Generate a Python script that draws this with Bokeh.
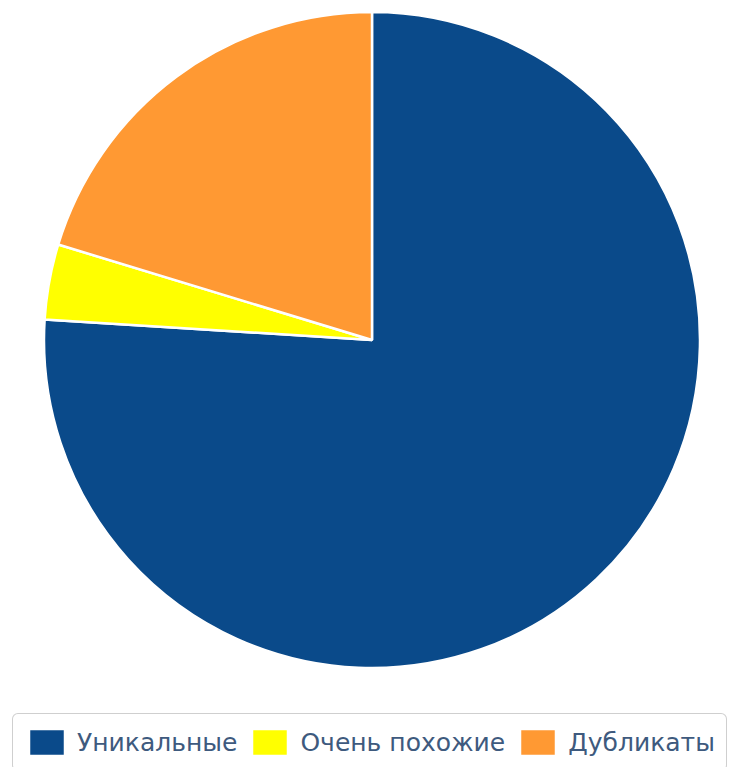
import math
import numpy as np
from bokeh.plotting import figure
from bokeh.models import ColumnDataSource, Range1d, Legend, LegendItem
from bokeh.embed import file_html
from bokeh.resources import INLINE

# data
categories = ["Уникальные", "Очень похожие", "Дубликаты"]
shares = [76.0, 3.7, 20.3]
colors = ["#0A4A8A", "#FFFF00", "#FF9933"]

W, H = 729, 767
cx, cy = 371.5, H - 339.5
R = 328

vals = np.array(shares, dtype=float)
frac = vals / vals.sum()
ends_cum = np.cumsum(frac)
starts_cum = ends_cum - frac
start_angle = math.pi / 2 - starts_cum * 2 * math.pi
end_angle = math.pi / 2 - ends_cum * 2 * math.pi

src = ColumnDataSource(dict(
    category=categories,
    start=start_angle,
    end=end_angle,
    color=colors,
    x=[cx] * 3,
    y=[cy] * 3,
))

p = figure(width=W, height=H, output_backend="svg", toolbar_location=None,
           x_range=Range1d(0, W), y_range=Range1d(0, H),
           min_border=0, outline_line_color=None, background_fill_color="white")
p.axis.visible = False
p.grid.visible = False

r = p.wedge(x="x", y="y", radius=R, radius_units="screen",
            start_angle="start", end_angle="end", direction="clock",
            fill_color="color", line_color="white", line_width=2.5, source=src)

items = [LegendItem(label=categories[i], renderers=[r], index=i) for i in range(3)]
legend = Legend(items=items, orientation="horizontal", location=(12, -4),
                glyph_width=45, glyph_height=34, label_standoff=8, spacing=10,
                padding=11, margin=0,
                label_text_font="DejaVu Sans", label_text_font_size="25px",
                label_text_color="#3E5A7E",
                border_line_color="#A0A0A0", border_line_width=1.5,
                background_fill_color="white", background_fill_alpha=1.0)
if "border_radius" in Legend.properties():
    legend.border_radius = 6
p.add_layout(legend, "center")

open("out.html", "w").write(file_html(p, INLINE))
